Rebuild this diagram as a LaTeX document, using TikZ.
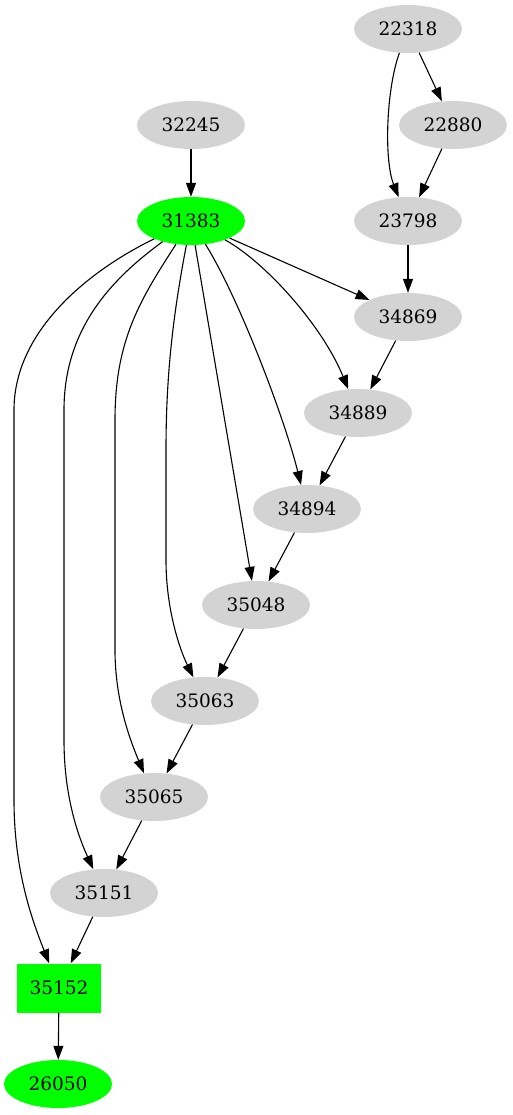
\documentclass[tikz,border=0pt]{standalone}
\usepackage{fontspec}
\setmainfont{DejaVu Serif}
\usetikzlibrary{arrows.meta,shapes.geometric}
\definecolor{nodegray}{HTML}{D3D3D3}
\definecolor{nodegreen}{HTML}{00FF00}
\begin{document}
\begin{tikzpicture}[x=1pt,y=-1pt,
      font=\fontsize{18.5}{22}\selectfont,
      blob/.style={ellipse, fill=nodegray, minimum width=108pt, minimum height=48pt, inner sep=0pt},
      hot/.style={blob, fill=nodegreen},
      sink/.style={rectangle, fill=nodegreen, minimum width=84pt, minimum height=49pt, inner sep=0pt},
      link/.style={-{Triangle[length=14pt,width=10pt]}, line width=1.1pt}]
    \useasboundingbox (0,0) rectangle (513,1115);
    % nodes
    \node[blob] (n22318) at (408,29) {22318};
    \node[blob] (n22880) at (453,125) {22880};
    \node[blob] (n32245) at (191,125) {32245};
    \node[hot]  (n31383) at (191,221) {31383};
    \node[blob] (n23798) at (408,221) {23798};
    \node[blob] (n34869) at (408,317) {34869};
    \node[blob] (n34889) at (358,413) {34889};
    \node[blob] (n34894) at (307,509) {34894};
    \node[blob] (n35048) at (256,605) {35048};
    \node[blob] (n35063) at (205,701) {35063};
    \node[blob] (n35065) at (154,797) {35065};
    \node[blob] (n35151) at (104,893) {35151};
    \node[sink] (n35152) at (59,988) {35152};
    \node[hot]  (n26050) at (58,1084) {26050};
    % chain edges
    \foreach \a/\b in {22318/22880, 22880/23798, 32245/31383, 23798/34869,
        34869/34889, 34889/34894, 34894/35048, 35048/35063, 35063/35065,
        35065/35151, 35151/35152, 35152/26050}
      \draw[link] (n\a) -- (n\b);
    \draw[link] (n22318) .. controls (386,90) and (384,160) .. (n23798);
    % fan out of 31383
    \draw[link] (n31383) -- (n34869);
    \draw[link] (n31383) .. controls (265,262) and (322,325) .. (n34889);
    \draw[link] (n31383) .. controls (240,300) and (285,420) .. (n34894);
    \draw[link] (n31383) -- (n35048);
    \draw[link] (n31383) .. controls (172,320) and (166,380) .. (166,450)
      -- (166,560) .. controls (166,610) and (180,650) .. (n35063);
    \draw[link] (n31383) .. controls (140,300) and (115,340) .. (115,420)
      -- (115,650) .. controls (115,700) and (130,740) .. (n35065);
    \draw[link] (n31383) .. controls (110,280) and (64,330) .. (64,410)
      -- (64,740) .. controls (64,800) and (80,840) .. (n35151);
    \draw[link] (n31383) .. controls (90,270) and (14,330) .. (14,410)
      -- (14,800) .. controls (14,870) and (32,920) .. (n35152);
\end{tikzpicture}
\end{document}
